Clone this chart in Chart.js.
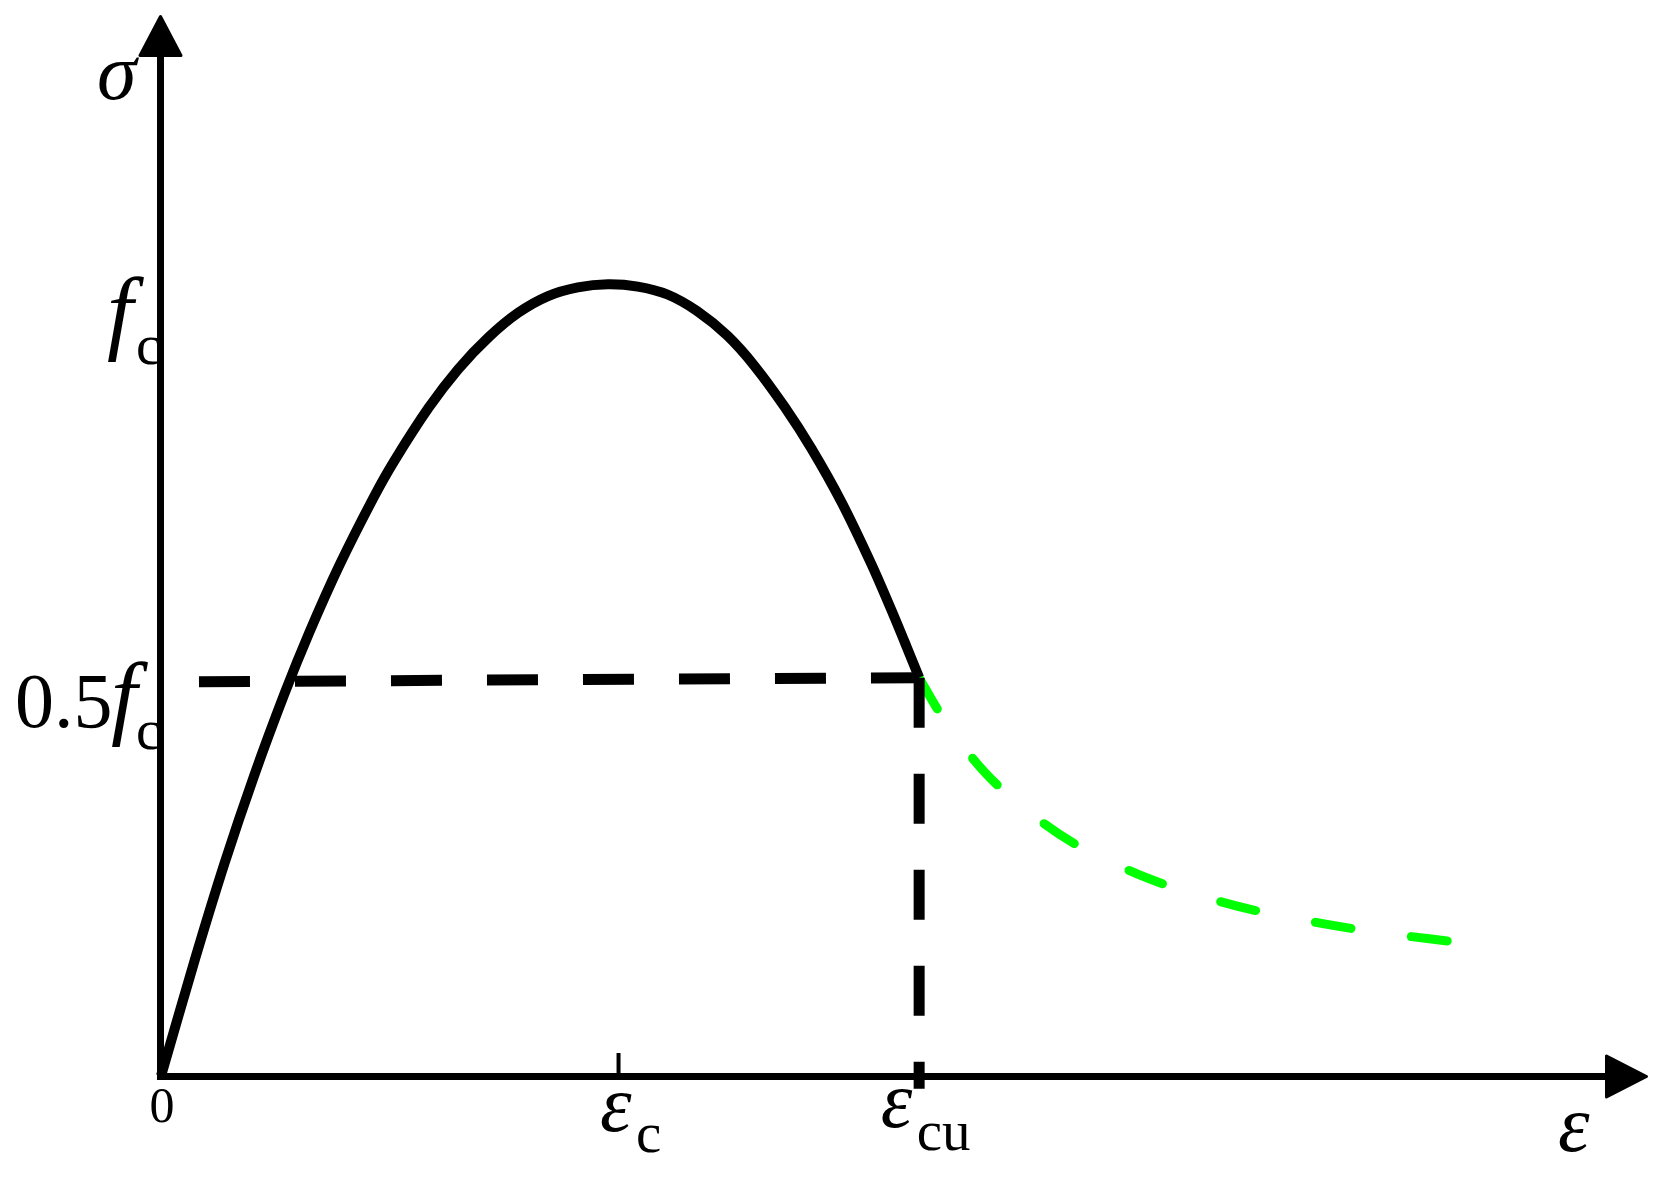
<!DOCTYPE html>
<html>
<head>
<meta charset="utf-8">
<title>Stress-strain curve</title>
<script src="https://cdn.jsdelivr.net/npm/chart.js@4.4.1/dist/chart.umd.min.js"></script>
<style>
  html, body { margin: 0; padding: 0; background: #fff; }
  #chart { display: block; }
</style>
</head>
<body>
<canvas id="chart" width="1664" height="1177"></canvas>
<script>
// Concrete stress-strain curve: strain in units of eps_c, stress in units of f_c

// rising and falling branch up to eps_cu
const mainStrain = [0, 0.074, 0.139, 0.204, 0.270, 0.324, 0.389, 0.465, 0.509, 0.585, 0.650, 0.716, 0.781, 0.846, 0.911, 0.977, 1.042, 1.107, 1.172, 1.238, 1.297, 1.363, 1.422, 1.488, 1.553, 1.596, 1.629, 1.657];
const mainStress = [0, 0.147, 0.269, 0.380, 0.483, 0.560, 0.644, 0.731, 0.776, 0.844, 0.893, 0.933, 0.964, 0.985, 0.996, 1.000, 0.997, 0.987, 0.966, 0.935, 0.897, 0.845, 0.792, 0.724, 0.646, 0.589, 0.543, 0.503];

// softening branch after eps_cu (green dashed)
const softStrain = [1.657, 1.706, 1.770, 1.829, 1.927, 2.007, 2.118, 2.203, 2.317, 2.408, 2.524, 2.617, 2.733, 2.820];
const softStress = [0.503, 0.455, 0.404, 0.367, 0.320, 0.290, 0.259, 0.240, 0.220, 0.207, 0.194, 0.185, 0.176, 0.170];

// guide lines at 0.5 f_c and at eps_cu
const halfStrain = [0.083, 1.657];
const halfStress = [0.498, 0.503];
const cuStrain = [1.657, 1.657];
const cuStress = [0.503, -0.016];

// tick labels
const xTickValues = [0, 1, 1.657];
const xTickMain = ['0', 'ε', 'ε'];
const xTickSub = ['', 'c', 'cu'];
const yTickValues = [1, 0.5];
const yTickPrefix = ['', '0.5'];
const yTickMain = ['f', 'f'];
const yTickSub = ['c', 'c'];
const xTitle = 'ε';
const yTitle = 'σ';

const pts = (xs, ys) => xs.map((x, i) => ({ x: x, y: ys[i] }));
const serif = '"Liberation Serif", "Times New Roman", serif';

function put(ctx, text, x, y, size, italic, align) {
    ctx.font = (italic ? 'italic ' : '') + size + 'px ' + serif;
    ctx.textAlign = align || 'left';
    ctx.fillText(text, x, y);
}

// label + axis drawing, done by hand so the arrows and subscripts look right
const axesPlugin = {
    id: 'axesPlugin',
    afterDraw(chart) {
        const ctx = chart.ctx;
        const xs = chart.scales.x, ys = chart.scales.y;
        const area = chart.chartArea;
        const x0 = xs.getPixelForValue(0), y0 = ys.getPixelForValue(0);
        ctx.save();
        ctx.fillStyle = '#000';
        ctx.textBaseline = 'alphabetic';

        // x tick labels (main symbol offset, subscript offset)
        const xPlace = [
            { main: [1, 46], size: 50, italic: false, align: 'center' },
            { main: [-18.5, 55], sub: [17.5, 76], size: 80, italic: true },
            { main: [-38.5, 51], sub: [-2.5, 74], size: 80, italic: true }
        ];
        xTickValues.forEach((v, i) => {
            const px = xs.getPixelForValue(v), p = xPlace[i];
            put(ctx, xTickMain[i], px + p.main[0], y0 + p.main[1], p.size, p.italic, p.align);
            if (xTickSub[i]) put(ctx, xTickSub[i], px + p.sub[0], y0 + p.sub[1], 57, false);
        });

        // y tick labels
        const yPlace = [
            { main: [-54, 58], sub: [-25, 80] },
            { pre: [-146, 47], main: [-50, 47], sub: [-25, 69] }
        ];
        yTickValues.forEach((v, i) => {
            const py = ys.getPixelForValue(v), p = yPlace[i];
            if (yTickPrefix[i]) put(ctx, yTickPrefix[i], x0 + p.pre[0], py + p.pre[1], 78, false);
            put(ctx, yTickMain[i], x0 + p.main[0], py + p.main[1], 94, true);
            put(ctx, yTickSub[i], x0 + p.sub[0], py + p.sub[1], 57, false);
        });

        // axis titles
        put(ctx, yTitle, x0 - 64, area.top + 84, 80, true);
        put(ctx, xTitle, area.right - 90, y0 + 75, 80, true);

        // axis lines
        ctx.strokeStyle = '#000';
        ctx.lineWidth = 7;
        ctx.lineCap = 'butt';
        ctx.beginPath();
        ctx.moveTo(x0 - 0.5, y0 + 4);
        ctx.lineTo(x0 - 0.5, area.top + 40);
        ctx.moveTo(x0 - 4, y0 + 0.5);
        ctx.lineTo(area.right - 41, y0 + 0.5);
        ctx.stroke();

        // arrow heads
        ctx.lineWidth = 3;
        ctx.lineJoin = 'round';
        ctx.beginPath();
        ctx.moveTo(x0 - 0.5, area.top + 1.5);
        ctx.lineTo(x0 - 21, area.top + 40.5);
        ctx.lineTo(x0 + 20, area.top + 40.5);
        ctx.closePath();
        ctx.fill();
        ctx.stroke();
        ctx.beginPath();
        ctx.moveTo(area.right - 1.5, y0 + 0.5);
        ctx.lineTo(area.right - 41.5, y0 - 20);
        ctx.lineTo(area.right - 41.5, y0 + 21);
        ctx.closePath();
        ctx.fill();
        ctx.stroke();

        // small tick at eps_c
        const tx = xs.getPixelForValue(xTickValues[1]);
        ctx.lineWidth = 4;
        ctx.beginPath();
        ctx.moveTo(tx, y0 - 23);
        ctx.lineTo(tx, y0);
        ctx.stroke();
        ctx.restore();
    }
};

const ctx = document.getElementById('chart');
new Chart(ctx, {
    type: 'line',
    data: {
        datasets: [
            {
                data: pts(mainStrain, mainStress),
                borderColor: '#000000',
                borderWidth: 10,
                tension: 0.3,
                borderJoinStyle: 'round',
                clip: false
            },
            {
                data: pts(halfStrain, halfStress),
                borderColor: '#000000',
                borderWidth: 11,
                borderDash: [51, 45],
                tension: 0,
                clip: false
            },
            {
                data: pts(cuStrain, cuStress),
                borderColor: '#000000',
                borderWidth: 11,
                borderDash: [50, 46],
                tension: 0,
                clip: false
            },
            {
                data: pts(softStrain, softStress),
                borderColor: '#00FF00',
                borderWidth: 9,
                borderDash: [36, 61],
                borderCapStyle: 'round',
                tension: 0.3,
                clip: false
            }
        ]
    },
    options: {
        responsive: false,
        animation: false,
        layout: { padding: { left: 161, right: 16, top: 15, bottom: 101 } },
        elements: { point: { radius: 0 } },
        scales: {
            x: { type: 'linear', min: 0, max: 3.25, display: false },
            y: { type: 'linear', min: 0, max: 1.34, display: false }
        },
        plugins: {
            legend: { display: false },
            tooltip: { enabled: false }
        }
    },
    plugins: [axesPlugin]
});
</script>
</body>
</html>
